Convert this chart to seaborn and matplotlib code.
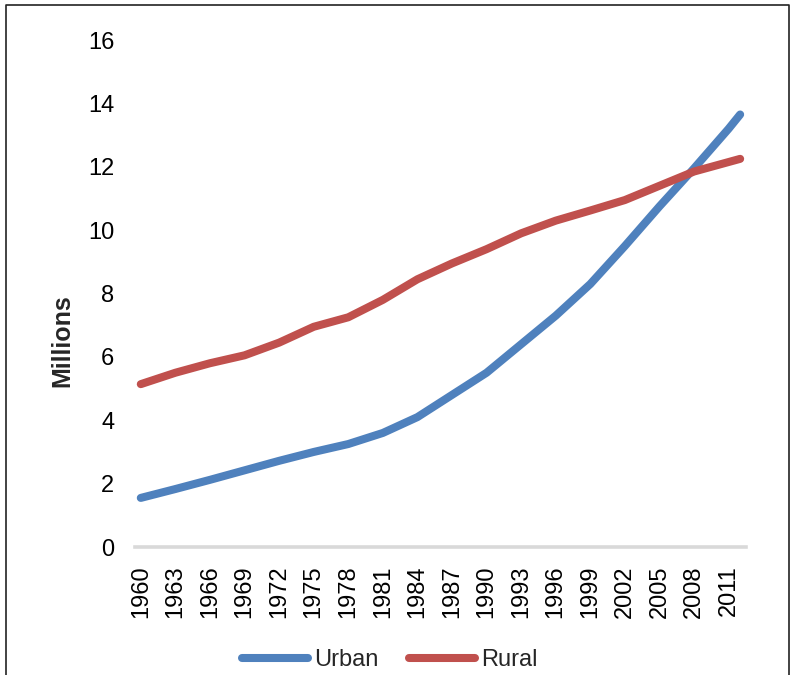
import matplotlib
matplotlib.use("Agg")
import matplotlib.pyplot as plt
import seaborn as sns
import pandas as pd
from matplotlib.lines import Line2D

# Population (millions) by year
years = [1960, 1963, 1966, 1969, 1972, 1975, 1978, 1981, 1984, 1987,
         1990, 1993, 1996, 1999, 2002, 2005, 2008, 2011, 2012]
urban = [1.55, 1.83, 2.12, 2.42, 2.72, 3.0, 3.25, 3.6, 4.1, 4.8,
         5.5, 6.4, 7.3, 8.3, 9.5, 10.75, 11.95, 13.2, 13.65]
rural = [5.14, 5.5, 5.8, 6.05, 6.45, 6.95, 7.25, 7.8, 8.45, 8.95,
         9.4, 9.9, 10.3, 10.62, 10.95, 11.4, 11.85, 12.15, 12.25]
tick_years = list(range(1960, 2012, 3))
y_ticks = [0, 2, 4, 6, 8, 10, 12, 14, 16]
series_names = ["Urban", "Rural"]
series_colors = ["#4F81BD", "#C0504D"]

df = pd.DataFrame({
    "Year": years * 2,
    "Millions": urban + rural,
    "Area": ["Urban"] * len(years) + ["Rural"] * len(years),
})

sns.set_theme(style="white")
plt.rcParams["font.family"] = ["Liberation Sans", "DejaVu Sans"]

fig = plt.figure(figsize=(7.91, 6.75), dpi=100)
ax = fig.add_axes([0.1707, 0.1896, 0.7723, 0.7511])

sns.lineplot(data=df, x="Year", y="Millions", hue="Area",
             hue_order=series_names, palette=series_colors,
             linewidth=5.8, solid_capstyle="round", solid_joinstyle="round",
             legend=False, ax=ax)

ax.set_xlim(1959.5, 2012.5)
ax.set_ylim(0, 16)
ax.set_xticks(tick_years)
ax.set_xticklabels([str(y) for y in tick_years], rotation=90, fontsize=17)
ax.set_yticks(y_ticks)
ax.set_yticklabels([str(v) for v in y_ticks], fontsize=17)
ax.tick_params(axis="x", length=0, pad=13, colors="black")
ax.tick_params(axis="y", length=0, pad=15, colors="black")
ax.set_xlabel("")
ax.set_ylabel("Millions", fontsize=18, fontweight="bold")
ax.yaxis.set_label_coords(-0.1, 0.408)

for side in ["left", "top", "right"]:
    ax.spines[side].set_visible(False)
ax.spines["bottom"].set_color("#d9d9d9")
ax.spines["bottom"].set_linewidth(2.6)
ax.grid(False)

handles = [Line2D([], [], color=c, linewidth=5.8, solid_capstyle="round")
           for c in series_colors]
fig.legend(handles, series_names, loc="center", bbox_to_anchor=(0.493, 0.022),
           ncol=2, frameon=False, fontsize=17, handlelength=2.8,
           handletextpad=0.25, columnspacing=1.3)

# outer frame (left, top, right edges)
W, H = 791, 675
frame_x = [6 / W, 6 / W, 789 / W, 789 / W]
frame_y = [0, 1 - 5 / H, 1 - 5 / H, 0]
fig.add_artist(Line2D(frame_x, frame_y, transform=fig.transFigure,
                      color="#222222", linewidth=1.2))

fig.savefig("out.png", dpi=100)
